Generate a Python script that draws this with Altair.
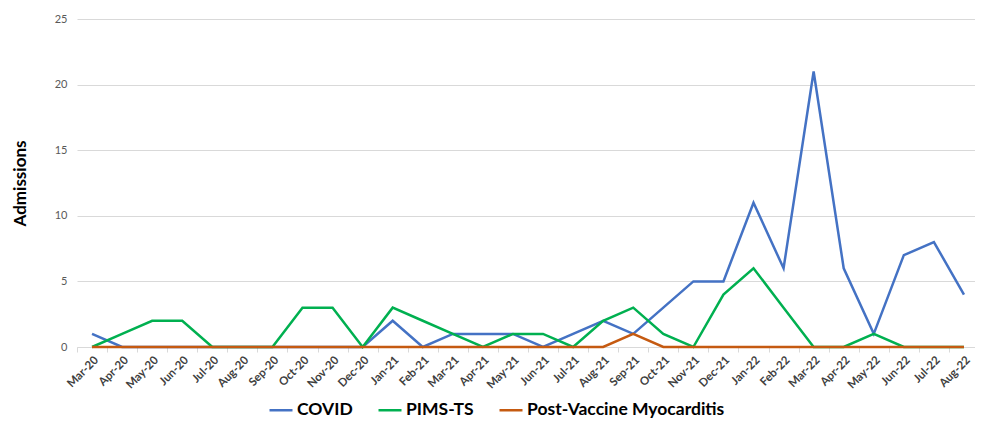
import altair as alt
import pandas as pd

months = ["Mar-20", "Apr-20", "May-20", "Jun-20", "Jul-20", "Aug-20", "Sep-20", "Oct-20",
          "Nov-20", "Dec-20", "Jan-21", "Feb-21", "Mar-21", "Apr-21", "May-21", "Jun-21",
          "Jul-21", "Aug-21", "Sep-21", "Oct-21", "Nov-21", "Dec-21", "Jan-22", "Feb-22",
          "Mar-22", "Apr-22", "May-22", "Jun-22", "Jul-22", "Aug-22"]
covid = [1, 0, 0, 0, 0, 0, 0, 0, 0, 0, 2, 0, 1, 1, 1, 0, 1, 2, 1, 3, 5, 5, 11, 6, 21, 6, 1, 7, 8, 4]
pims = [0, 1, 2, 2, 0, 0, 0, 3, 3, 0, 3, 2, 1, 0, 1, 1, 0, 2, 3, 1, 0, 4, 6, 3, 0, 0, 1, 0, 0, 0]
myo = [0, 0, 0, 0, 0, 0, 0, 0, 0, 0, 0, 0, 0, 0, 0, 0, 0, 0, 1, 0, 0, 0, 0, 0, 0, 0, 0, 0, 0, 0]
series = ["COVID", "PIMS-TS", "Post-Vaccine Myocarditis"]
colors = ["#4472C4", "#00B050", "#C55A11"]

rows = []
for name, vals in zip(series, [covid, pims, myo]):
    for m, v in zip(months, vals):
        rows.append({"Month": m, "Series": name, "Admissions": v})
df = pd.DataFrame(rows)

chart = alt.Chart(df).mark_line(strokeWidth=2.5).encode(
    x=alt.X("Month:N", sort=months, title=None,
            scale=alt.Scale(type="band", range=[0, 902], paddingInner=0, paddingOuter=0),
            axis=alt.Axis(labelAngle=-45, labelFontSize=11.5, labelFontWeight="bold",
                          labelColor="#404040", labelFont="Lato", tickBand="extent",
                          domainColor="#d9d9d9", tickColor="#d9d9d9", tickSize=5,
                          labelPadding=2, grid=False)),
    y=alt.Y("Admissions:Q", title="Admissions",
            scale=alt.Scale(domain=[0, 25]),
            axis=alt.Axis(values=[0, 5, 10, 15, 20, 25], domain=False, ticks=False,
                          gridColor="#d9d9d9", labelColor="#595959", labelFontSize=11,
                          labelFont="Lato", labelPadding=10, titleFont="Lato",
                          titleFontSize=17, titleFontWeight="bold", titleColor="#000000",
                          titlePadding=25)),
    color=alt.Color("Series:N", sort=series,
                    scale=alt.Scale(domain=series, range=colors),
                    legend=alt.Legend(title=None, orient="none", direction="horizontal",
                                      legendX=191, legendY=378, symbolType="stroke",
                                      symbolSize=529, symbolStrokeWidth=2.5,
                                      labelFont="Lato", labelFontSize=17.5,
                                      labelFontWeight="bold", labelColor="#000000",
                                      labelLimit=0, columnPadding=20, labelOffset=3)),
).properties(
    width=898, height=328,
    autosize=alt.AutoSizeParams(type="none"),
    padding={"left": 69, "top": 11, "right": 0, "bottom": 73},
).configure_view(stroke=None)

chart.save("out.html", embed_options={"renderer": "svg", "actions": False})
